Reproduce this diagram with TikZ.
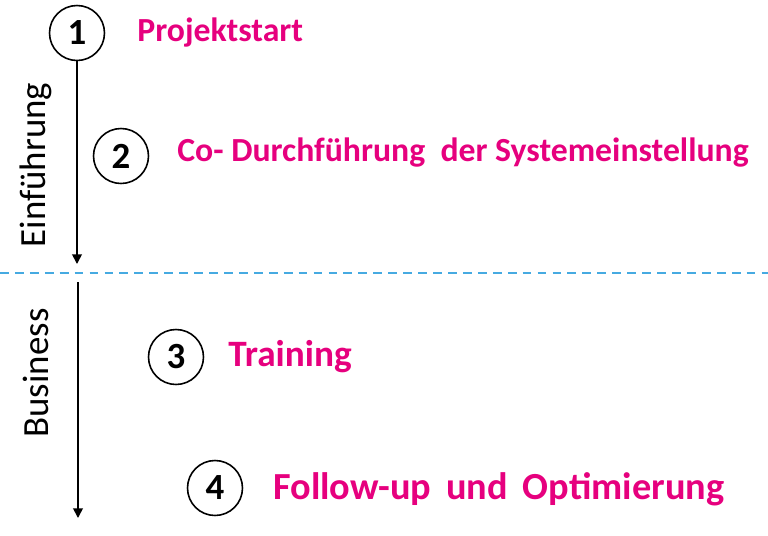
\documentclass[tikz,border=0pt]{standalone}
\usepackage{fontspec}
\setmainfont{Carlito}
\usepackage{tikz}
\usetikzlibrary{arrows.meta}
\definecolor{stepmagenta}{RGB}{230,0,126}
\definecolor{sepblue}{RGB}{70,170,225}

\begin{document}
\begin{tikzpicture}[x=0.02cm, y=-0.02cm,
		numcircle/.style={circle, draw, line width=0.9pt, minimum size=1.1cm, inner sep=0pt, font=\bfseries\fontsize{21}{24}\selectfont},
		steptext/.style={anchor=west, text=stepmagenta, inner sep=0pt, font=\bfseries\fontsize{19.2}{22}\selectfont},
		phase/.style={rotate=90, inner sep=0pt, font=\fontsize{21}{24}\selectfont}]
		\useasboundingbox (0,0) rectangle (768,535);

		% Step 1
		\node (c1) [numcircle] at (77,33) {1};
		\node (t1) [steptext] at (137,33) {Projektstart};

		% Step 2
		\node (c2) [numcircle] at (121,156) {2};
		\node (t2) [steptext] at (177,153) {Co- Durchführung\ \ der Systemeinstellung};

		% Step 3
		\node (c3) [numcircle] at (176,357) {3};
		\node (t3) [steptext, font=\bfseries\fontsize{21.2}{24}\selectfont] at (228,357) {Training};

		% Step 4
		\node (c4) [numcircle] at (215,488) {4};
		\node (t4) [steptext, font=\bfseries\fontsize{21.8}{26}\selectfont] at (273,489) {Follow-up\hspace{0.3cm}und\hspace{0.3cm}Optimierung};

		% Phases
		\node (ph1) [phase] at (36,165) {Einführung};
		\node (ph2) [phase] at (36,373) {Business};

		% Separator
		\coordinate (sl) at (0,273);
		\coordinate (sr) at (768,273);
		\draw[sepblue, line width=1.2pt, dash pattern=on 5pt off 3.5pt] (sl) -- (sr);

		% Arrows
		\coordinate (e1) at (77,264);
		\coordinate (s2) at (78,282);
		\coordinate (e2) at (78,518);
		\draw[-{Triangle[length=5.5pt,width=5.5pt]}, line width=1pt] (c1) -- (e1);
		\draw[-{Triangle[length=5.5pt,width=5.5pt]}, line width=1pt] (s2) -- (e2);
	\end{tikzpicture}
\end{document}
